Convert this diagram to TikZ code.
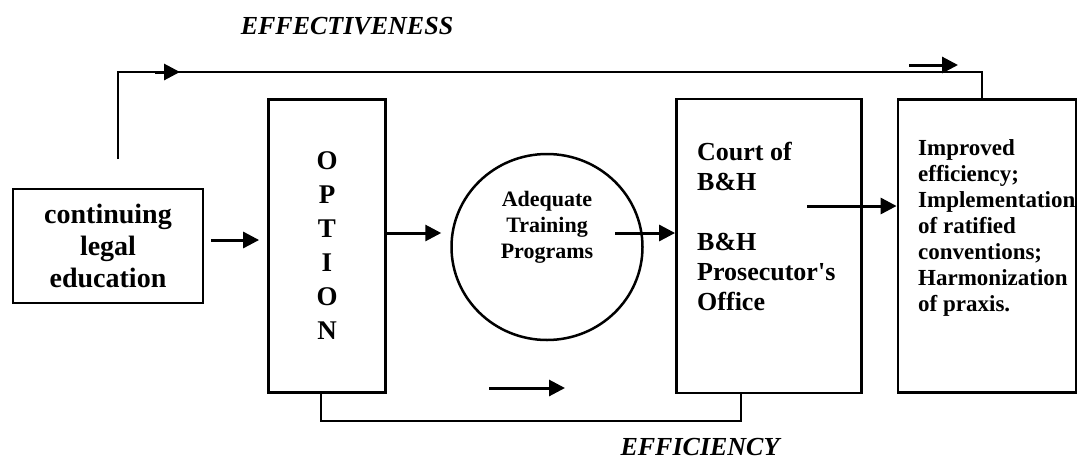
\documentclass[tikz,border=0pt]{standalone}
\usepackage{fontspec}
\setmainfont{Liberation Serif}[Ligatures=TeXOff]
\usetikzlibrary{shapes.geometric, arrows.meta, positioning, calc}

\begin{document}
\begin{tikzpicture}[x=1pt, y=-1pt,
  box/.style={draw, line width=2.8pt, inner sep=0pt},
  conn/.style={line width=2.5pt},
  arr/.style={-{Triangle[length=16pt, width=16pt]}, line width=3pt},
  boxtext/.style={font=\bfseries, align=left, inner sep=0pt}]
  \useasboundingbox (0,0) rectangle (1082,464);

  % boxes
  \node[box, minimum width=190pt, minimum height=114pt, align=center, font=\fontsize{28}{32}\selectfont\bfseries] (cle) at (108,246) {continuing\\legal\\education};
  \node[box, minimum width=117pt, minimum height=293pt, align=center, font=\fontsize{27}{34}\selectfont\bfseries] (option) at (327,246) {O\\P\\T\\I\\O\\N};
  \node[draw, ellipse, line width=2.5pt, minimum width=191pt, minimum height=186pt] (adq) at (547,247) {};
  \node[boxtext, align=center, font=\fontsize{22}{26}\selectfont\bfseries] (adqtxt) at (547,227) {Adequate\\Training\\Programs};
  \node[box, minimum width=185pt, minimum height=294pt] (court) at (769,246) {};
  \node[boxtext, anchor=west, font=\fontsize{26}{30}\selectfont\bfseries] (courttxt) at (697,226) {Court of\\B\&H\\[30pt]B\&H\\Prosecutor's\\Office};
  \node[box, minimum width=178pt, minimum height=293pt] (result) at (987,246) {};
  \node[boxtext, anchor=west, font=\fontsize{23}{26}\selectfont\bfseries] (resulttxt) at (918,228) {Improved\\efficiency;\\Implementation\\of ratified\\conventions;\\Harmonization\\of praxis.};

  % labels
  \node[font=\fontsize{26}{30}\selectfont\bfseries\itshape] (effectiveness) at (347,26) {EFFECTIVENESS};
  \node[font=\fontsize{26}{30}\selectfont\bfseries\itshape] (efficiency) at (700,447) {EFFICIENCY};

  % flow arrows
  \draw[arr, shorten <=7pt, shorten >=8pt] (cle.east |- 0,240) -- (option.west |- 0,240);
  \draw[arr, shorten >=9pt] (option.east |- 0,233) -- (adq.west |- 0,233);
  \coordinate (adqout) at (615,233);
  \draw[arr] (adqout) -- (adqout -| court.west);
  \coordinate (courtout) at (807,206);
  \draw[arr] (courtout) -- (courtout -| result.west);

  % effectiveness loop
  \coordinate (effstart) at (118,159);
  \coordinate (efftop) at (982,72);
  \draw[conn] (effstart) |- (efftop) -- (efftop |- result.north);
  \draw[arr] (155,72) -- (180,72);
  \draw[arr] (909,65) -- (958,65);

  % efficiency loop
  \coordinate (effiL) at (321,421);
  \coordinate (effiR) at (741,421);
  \draw[conn] (option.south -| effiL) -- (effiL) -- (effiR) -- (court.south -| effiR);
  \draw[arr] (489,388) -- (565,388);
\end{tikzpicture}
\end{document}
